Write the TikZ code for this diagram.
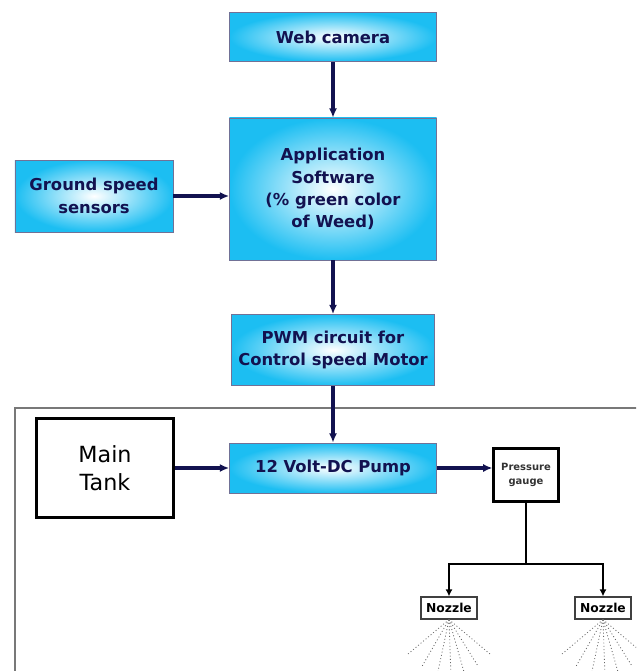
\documentclass[tikz,border=0pt]{standalone}
\usepackage{fontspec}
\setmainfont{DejaVu Sans}
\usetikzlibrary{arrows.meta,positioning}
\definecolor{boxcyan}{RGB}{28,190,242}
\definecolor{navy}{RGB}{18,18,80}
\definecolor{framegray}{RGB}{120,120,120}
\begin{document}
\begin{tikzpicture}[x=0.03cm,y=-0.03cm,
	cyanbox/.style={draw=navy!60,line width=0.6pt,inner color=white,outer color=boxcyan,text=navy,align=center,font=\fontsize{14}{19}\selectfont\bfseries},
	plainbox/.style={draw=black,line width=2.3pt,fill=white,align=center},
	flow/.style={navy,line width=3.2pt,-{Latex[length=8pt,width=7pt]}},
	pipe/.style={black,line width=2pt,-{Latex[length=6pt,width=6pt]}},
	spray/.style={black!60,line width=0.7pt,dash pattern=on 0.8pt off 2pt}]
		\useasboundingbox (0,0) rectangle (636,671);
		\clip (0,0) rectangle (636,671);
		\draw[framegray,line width=1.2pt] (15,408) rectangle (700,720);
		\node[cyanbox,minimum width=6.21cm,minimum height=1.47cm] (cam) at (333,37) {Web camera};
		\node[cyanbox,minimum width=6.21cm,minimum height=4.26cm] (app) at (333,189) {Application\\Software\\(\% green color\\of Weed)};
		\node[cyanbox,minimum width=4.74cm,minimum height=2.16cm] (gss) at (94,196) {Ground speed\\sensors};
		\node[cyanbox,minimum width=6.1cm,minimum height=2.13cm,inner xsep=1pt] (pwm) at (333,350) {PWM circuit for\\Control speed Motor};
		\node[cyanbox,minimum width=6.21cm,minimum height=1.5cm] (pump) at (333,468) {12 Volt-DC Pump};
		\node[plainbox,minimum width=4.11cm,minimum height=2.97cm,font=\fontsize{19}{24}\selectfont] (tank) at (105,468) {Main\\Tank};
		\node[plainbox,line width=1.8pt,minimum width=1.95cm,minimum height=1.59cm,text=black!80,font=\fontsize{8.5}{12}\selectfont\bfseries] (gauge) at (526,475) {Pressure\\gauge};
		\node[draw=black!75,line width=1pt,fill=white,minimum width=1.68cm,minimum height=0.66cm,inner sep=1pt,font=\fontsize{10.5}{12}\selectfont\bfseries] (noz1) at (449,608) {Nozzle};
		\node[draw=black!75,line width=1pt,fill=white,minimum width=1.68cm,minimum height=0.66cm,inner sep=1pt,font=\fontsize{10.5}{12}\selectfont\bfseries] (noz2) at (603,608) {Nozzle};
		\coordinate (split) at (526,564);
		\draw[flow] (cam) -- (app);
		\draw[flow] (gss.east) -- (gss.east -| app.west);
		\draw[flow] (app) -- (pwm);
		\draw[flow] (pwm) -- (pump);
		\draw[flow] (tank) -- (pump);
		\draw[flow] (pump.east) -- (pump.east -| gauge.west);
		\draw[pipe] (gauge.south) -- (split) -| (noz1.north);
		\draw[pipe] (split) -| (noz2.north);
		\foreach \a in {140,120,102,88,74,58,40}{
			\draw[spray] (noz1.south) -- ++(\a:55);
			\draw[spray] (noz2.south) -- ++(\a:55);
		}
\end{tikzpicture}
\end{document}
